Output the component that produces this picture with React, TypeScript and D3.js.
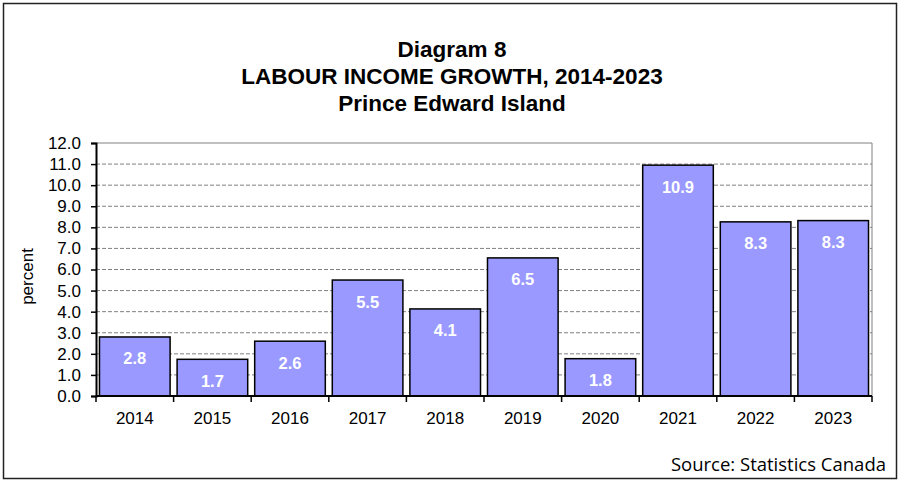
import { useEffect, useRef } from "react";
import * as d3 from "d3";

const years = ["2014", "2015", "2016", "2017", "2018", "2019", "2020", "2021", "2022", "2023"];
const growth = [2.8, 1.74, 2.6, 5.5, 4.13, 6.55, 1.77, 10.95, 8.26, 8.32];
const yTicks = [0, 1, 2, 3, 4, 5, 6, 7, 8, 9, 10, 11, 12];
const titleLines = ["Diagram 8", "LABOUR INCOME GROWTH, 2014-2023", "Prince Edward Island"];

const W = 901;
const H = 481;
const plot = { left: 96, right: 872, top: 143, bottom: 396 };
const FONT = "Liberation Sans, Arial, sans-serif";

export default function App() {
  const svgRef = useRef<SVGSVGElement>(null);

  useEffect(() => {
    const svg = d3.select(svgRef.current);
    svg.selectAll("*").remove();

    svg.append("rect").attr("width", W).attr("height", H).attr("fill", "white");
    svg
      .append("rect")
      .attr("x", 3.5)
      .attr("y", 3.5)
      .attr("width", 893)
      .attr("height", 475)
      .attr("fill", "none")
      .attr("stroke", "#222")
      .attr("stroke-width", 1.5);

    // title
    svg
      .append("g")
      .selectAll("text")
      .data(titleLines)
      .join("text")
      .attr("x", 452)
      .attr("y", (_, i) => 57 + i * 27)
      .attr("text-anchor", "middle")
      .attr("font-family", FONT)
      .attr("font-weight", "bold")
      .attr("font-size", 22.5)
      .text((d) => d);

    const x = d3
      .scaleBand()
      .domain(years)
      .range([plot.left, plot.right])
      .paddingInner(0.09)
      .paddingOuter(0.045);
    const y = d3.scaleLinear().domain([0, 12]).range([plot.bottom, plot.top]);

    // gridlines
    svg
      .append("g")
      .selectAll("line")
      .data(yTicks.filter((t) => t > 0))
      .join("line")
      .attr("x1", plot.left)
      .attr("x2", plot.right)
      .attr("y1", (d) => y(d))
      .attr("y2", (d) => y(d))
      .attr("stroke", "#808080")
      .attr("stroke-width", 1)
      .attr("stroke-dasharray", (d) => (d === 12 ? null : "4,2"));
    svg
      .append("line")
      .attr("x1", plot.right)
      .attr("x2", plot.right)
      .attr("y1", plot.top)
      .attr("y2", plot.bottom)
      .attr("stroke", "#808080");

    // bars
    svg
      .append("g")
      .selectAll("rect")
      .data(years)
      .join("rect")
      .attr("x", (d) => x(d)!)
      .attr("y", (_, i) => y(growth[i]))
      .attr("width", x.bandwidth())
      .attr("height", (_, i) => plot.bottom - y(growth[i]))
      .attr("fill", "#9999ff")
      .attr("stroke", "black")
      .attr("stroke-width", 1.5);

    svg
      .append("g")
      .selectAll("text")
      .data(years)
      .join("text")
      .attr("x", (d) => x(d)! + x.bandwidth() / 2)
      .attr("y", (_, i) => y(growth[i]) + 27.5)
      .attr("text-anchor", "middle")
      .attr("font-family", FONT)
      .attr("font-weight", "bold")
      .attr("font-size", 16.5)
      .attr("fill", "white")
      .text((_, i) => growth[i].toFixed(1));

    // y axis
    const yAxis = d3
      .axisLeft(y)
      .tickValues(yTicks)
      .tickSize(5)
      .tickPadding(10)
      .tickFormat((d) => (d as number).toFixed(1));
    const yg = svg.append("g").attr("transform", `translate(${plot.left},0)`).call(yAxis);
    yg.select(".domain").attr("stroke", "black").attr("stroke-width", 2);
    yg.selectAll(".tick line").attr("stroke", "black").attr("stroke-width", 1.5);
    yg.selectAll(".tick text")
      .attr("font-family", FONT)
      .attr("font-size", 17)
      .attr("fill", "black");

    // x axis with ticks between categories
    const xg = svg.append("g").attr("transform", `translate(0,${plot.bottom})`);
    xg.append("line")
      .attr("x1", plot.left)
      .attr("x2", plot.right)
      .attr("stroke", "black")
      .attr("stroke-width", 2);
    const step = x.step();
    const bounds = d3.range(years.length + 1).map((i) => plot.left + i * step);
    xg.selectAll("line.tick")
      .data(bounds)
      .join("line")
      .attr("class", "tick")
      .attr("x1", (d) => d)
      .attr("x2", (d) => d)
      .attr("y1", 0)
      .attr("y2", 6)
      .attr("stroke", "black")
      .attr("stroke-width", 1.5);
    xg.selectAll("text")
      .data(years)
      .join("text")
      .attr("x", (d) => x(d)! + x.bandwidth() / 2)
      .attr("y", 28)
      .attr("text-anchor", "middle")
      .attr("font-family", FONT)
      .attr("font-size", 17)
      .text((d) => d);

    // y label
    svg
      .append("text")
      .attr("transform", `translate(33,${(plot.top + plot.bottom) / 2 + 7}) rotate(-90)`)
      .attr("text-anchor", "middle")
      .attr("font-family", FONT)
      .attr("font-size", 17)
      .text("percent");

    // source
    svg
      .append("text")
      .attr("x", 886)
      .attr("y", 471)
      .attr("text-anchor", "end")
      .attr("font-family", "Open Sans, sans-serif")
      .attr("font-size", 18.5)
      .text("Source: Statistics Canada");
  }, []);

  return (
    <svg
      ref={svgRef}
      width={W}
      height={H}
      style={{ position: "absolute", left: 0, top: 0 }}
    ></svg>
  );
}
